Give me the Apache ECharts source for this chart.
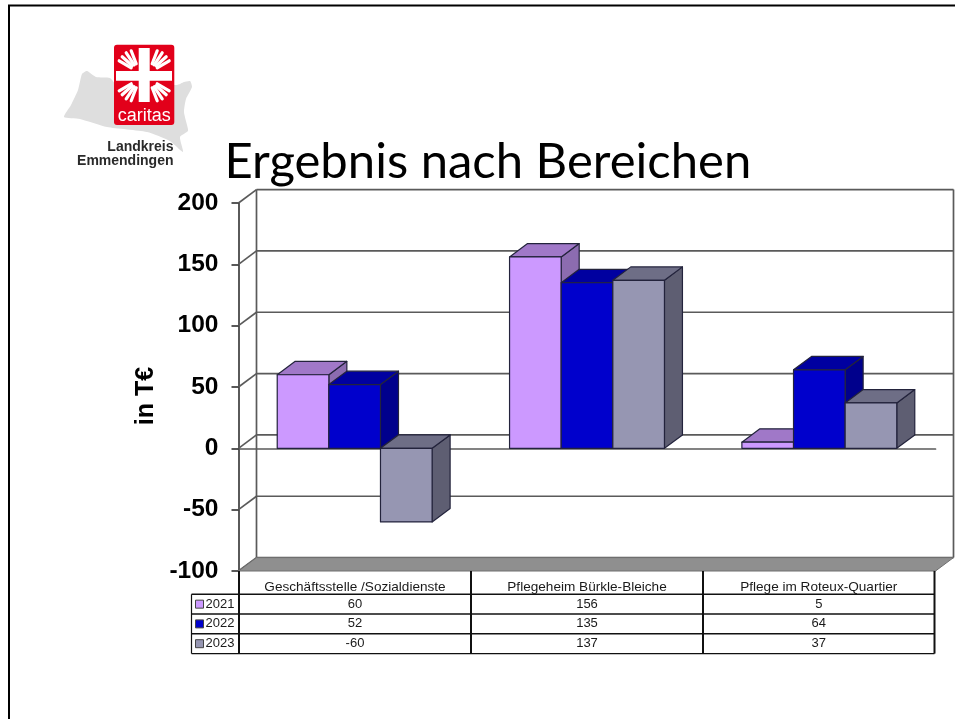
<!DOCTYPE html>
<html>
<head>
<meta charset="utf-8">
<title>Ergebnis nach Bereichen</title>
<script src="https://cdn.jsdelivr.net/npm/echarts@6/dist/echarts.min.js"></script>
<style>
  html, body { margin: 0; padding: 0; background: #fff; }
  #chart { width: 955px; height: 719px; }
</style>
</head>
<body>
<div id="chart"></div>
<script>
// Daten
var categories = ['Geschäftsstelle /Sozialdienste', 'Pflegeheim Bürkle-Bleiche', 'Pflege im Roteux-Quartier'];
var years = ['2021', '2022', '2023'];
var values2021 = [60, 156, 5];
var values2022 = [52, 135, 64];
var values2023 = [-60, 137, 37];
var yTicks = [-100, -50, 0, 50, 100, 150, 200];

var titleText = 'Ergebnis nach Bereichen';
var yName = 'in T€';

// 3D look
var DX = 18, DY = 13.4;
var LINE = '#5a5a5a';
var TEXT = '#1a1a1a';
var EDGE = '#23233c';
var faces = [
  { front: '#cc99ff', top: '#a078c8', side: '#8c6cb0' },
  { front: '#0000cc', top: '#0000a0', side: '#00008c' },
  { front: '#9696b2', top: '#6e6e86', side: '#5e5e72' }
];
var seriesValues = [values2021, values2022, values2023];

var GRID = { left: 238.5, right: 935.5, top: 203, bottom: 571 };

var myChart = echarts.init(document.getElementById('chart'));

function renderWall(params, api) {
  var v = api.value(1);
  var p = api.coord([0, v]);
  var band = api.size([1, 0])[0];
  var x0 = p[0] - band / 2;
  var x1 = x0 + band * categories.length;
  var y = p[1];
  var style = { stroke: LINE, lineWidth: 1.7, fill: null };
  var kids = [
    { type: 'line', shape: { x1: x0, y1: y, x2: x0 + DX, y2: y - DY }, style: style },
    { type: 'line', shape: { x1: x0 + DX, y1: y - DY, x2: x1 + DX, y2: y - DY }, style: style }
  ];
  if (v === yTicks[0]) {
    var top = api.coord([0, yTicks[yTicks.length - 1]])[1];
    kids.unshift(
      { type: 'line', shape: { x1: x0 + DX, y1: top - DY, x2: x0 + DX, y2: y - DY }, style: style },
      { type: 'line', shape: { x1: x1 + DX, y1: top - DY, x2: x1 + DX, y2: y - DY }, style: style }
    );
    kids.push({
      type: 'polygon',
      shape: { points: [[x0, y], [x0 + DX, y - DY], [x1 + DX, y - DY], [x1, y]] },
      style: { fill: '#8f8f8f', stroke: '#6e6e6e', lineWidth: 1 }
    });
  }
  return { type: 'group', children: kids };
}

function renderBar(idx) {
  return function (params, api) {
    var cat = api.value(0);
    var val = api.value(1);
    var center = api.coord([cat, 0]);
    var end = api.coord([cat, val]);
    var band = api.size([1, 0])[0];
    var w = band / 4.5;
    var l = center[0] - 1.5 * w + idx * w;
    var r = l + w;
    var yA = Math.min(center[1], end[1]);
    var yB = Math.max(center[1], end[1]);
    var f = faces[idx];
    var stroke = { stroke: EDGE, lineWidth: 1.2, lineJoin: 'round' };
    return {
      type: 'group',
      children: [
        { type: 'polygon', shape: { points: [[r, yA], [r + DX, yA - DY], [r + DX, yB - DY], [r, yB]] },
          style: Object.assign({ fill: f.side }, stroke) },
        { type: 'polygon', shape: { points: [[l, yA], [l + DX, yA - DY], [r + DX, yA - DY], [r, yA]] },
          style: Object.assign({ fill: f.top }, stroke) },
        { type: 'rect', shape: { x: l, y: yA, width: w, height: yB - yA },
          style: Object.assign({ fill: f.front }, stroke) }
      ]
    };
  };
}

// Tabelle unter dem Diagramm
function tableGraphics() {
  var out = [];
  var rowY = [594.3, 614, 633.8, 653.6];
  var colX = [239, 471, 703, 934.5];
  var tableLeft = 191.5;
  function line(x1, y1, x2, y2, w) {
    out.push({ type: 'line', z: 20, shape: { x1: x1, y1: y1, x2: x2, y2: y2 }, style: { stroke: '#111', lineWidth: w } });
  }
  function text(t, x, y, align, size) {
    out.push({ type: 'text', z: 21, x: x, y: y, style: { text: t, font: size + 'px "Liberation Sans", Arial, sans-serif', fill: TEXT, align: align, verticalAlign: 'middle' } });
  }
  rowY.forEach(function (y) { line(tableLeft, y, colX[3], y, 1.4); });
  colX.forEach(function (x) { line(x, GRID.bottom, x, rowY[3], 2); });
  line(tableLeft, rowY[0], tableLeft, rowY[3], 1.2);
  categories.forEach(function (c, i) {
    text(c, (colX[i] + colX[i + 1]) / 2, 587, 'center', 13.6);
  });
  years.forEach(function (year, r) {
    var cy = (rowY[r] + rowY[r + 1]) / 2;
    out.push({ type: 'rect', z: 21, shape: { x: 195.5, y: cy - 4, width: 8, height: 8 },
      style: { fill: faces[r].front, stroke: '#444', lineWidth: 1 } });
    text(year, 205.5, cy, 'left', 13);
    seriesValues[r].forEach(function (v, i) {
      text(String(v), (colX[i] + colX[i + 1]) / 2, cy, 'center', 13);
    });
  });
  return out;
}

// Caritas Logo
function logoGraphics() {
  var out = [];
  out.push({ type: 'polygon', z: 1, shape: { smooth: 0.2, points: [
    [64, 117], [71, 105], [78, 90], [82, 74], [87, 71], [96, 77], [110, 78], [116, 84], [150, 84], [177, 85], [184, 82], [190, 81],
    [192, 87], [186, 99], [184, 112], [187, 125], [188, 131], [180, 137], [183, 152], [170, 141], [147, 132], [107, 127], [80, 119]
  ] }, style: { fill: '#dedede' } });
  out.push({ type: 'rect', z: 2, shape: { x: 114, y: 44.7, width: 60.3, height: 80.3, r: 3 }, style: { fill: '#e2001a' } });
  var cx = 144.2, cy = 75.8;
  [[-1, -1], [1, -1], [-1, 1], [1, 1]].forEach(function (s) {
    [[13, 8, 25, 15], [12, 10, 22, 19], [10, 11, 18, 23], [8, 12, 13, 25]].forEach(function (a) {
      out.push({ type: 'line', z: 3,
        shape: { x1: cx + s[0] * a[0], y1: cy + s[1] * a[1], x2: cx + s[0] * a[2], y2: cy + s[1] * a[3] },
        style: { stroke: '#fff', lineWidth: 3.2, lineCap: 'round' } });
    });
  });
  out.push({ type: 'rect', z: 4, shape: { x: 138.7, y: 48, width: 11, height: 54 }, style: { fill: '#fff' } });
  out.push({ type: 'rect', z: 4, shape: { x: 116, y: 71, width: 56, height: 9.7 }, style: { fill: '#fff' } });
  out.push({ type: 'text', z: 5, x: 144.2, y: 116, style: { text: 'caritas', font: '18px "Liberation Sans", Arial, sans-serif', fill: '#fff', align: 'center', verticalAlign: 'middle' } });
  out.push({ type: 'text', z: 5, x: 173.5, y: 147, style: { text: 'Landkreis', font: 'bold 14px "Liberation Sans", Arial, sans-serif', fill: '#2a2a2a', align: 'right', verticalAlign: 'middle' } });
  out.push({ type: 'text', z: 5, x: 173.5, y: 161, style: { text: 'Emmendingen', font: 'bold 14px "Liberation Sans", Arial, sans-serif', fill: '#2a2a2a', align: 'right', verticalAlign: 'middle' } });
  return out;
}

var series = [{
  type: 'custom',
  name: 'wall',
  z: 1,
  silent: true,
  coordinateSystem: 'cartesian2d',
  renderItem: renderWall,
  encode: { x: 0, y: 1 },
  data: yTicks.map(function (v) { return [0, v]; })
}];
years.forEach(function (year, i) {
  series.push({
    type: 'custom',
    name: year,
    z: 3 + i,
    coordinateSystem: 'cartesian2d',
    renderItem: renderBar(i),
    encode: { x: 0, y: 1 },
    data: seriesValues[i].map(function (v, c) { return [c, v]; })
  });
});

var option = {
  animation: false,
  backgroundColor: '#fff',
  title: {
    text: titleText,
    left: 219.5,
    top: 133,
    textStyle: { fontFamily: 'Lato', fontWeight: 'normal', fontSize: 49, color: '#000' }
  },
  grid: { left: GRID.left, top: GRID.top, width: GRID.right - GRID.left, height: GRID.bottom - GRID.top, containLabel: false },
  xAxis: {
    type: 'category',
    data: categories,
    axisLine: { onZero: true, lineStyle: { color: LINE, width: 1.7 } },
    axisTick: { show: false },
    axisLabel: { show: false }
  },
  yAxis: {
    type: 'value',
    min: -100,
    max: 200,
    interval: 50,
    splitLine: { show: false },
    axisLine: { show: true, lineStyle: { color: LINE, width: 2 } },
    axisTick: { show: true, length: 7, lineStyle: { color: '#222', width: 1.5 } },
    axisLabel: { margin: 20, color: '#000', fontFamily: 'Liberation Sans', fontWeight: 'bold', fontSize: 24.5 }
  },
  graphic: [
    // Folienrahmen
    { type: 'polyline', z: 0, shape: { points: [[9, 719], [9, 5.5], [955, 5.5]] }, style: { stroke: '#000', lineWidth: 2, fill: null } },
    { type: 'text', z: 5, x: 146, y: 396, rotation: Math.PI / 2,
      style: { text: yName, font: 'bold 25px "Liberation Sans", Arial, sans-serif', fill: '#000', align: 'center', verticalAlign: 'middle' } }
  ].concat(logoGraphics(), tableGraphics()),
  series: series
};

myChart.setOption(option);
window.addEventListener('resize', function () { myChart.resize(); });
</script>
</body>
</html>
